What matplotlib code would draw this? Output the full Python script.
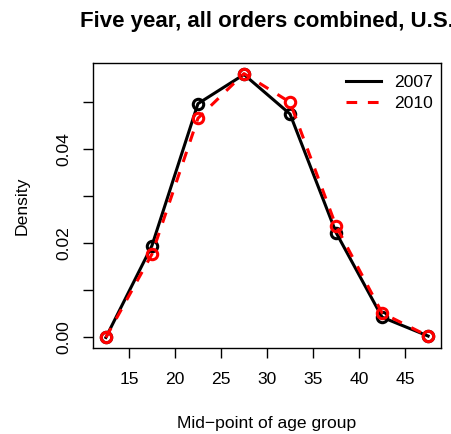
import matplotlib
matplotlib.use("Agg")
import matplotlib.pyplot as plt
import numpy as np

plt.rcParams['font.family'] = ['Liberation Sans', 'DejaVu Sans']

midpoints = [12.5, 17.5, 22.5, 27.5, 32.5, 37.5, 42.5, 47.5]
density_2007 = [0.0, 0.0195, 0.0497, 0.0559, 0.0475, 0.0223, 0.0043, 0.0003]
density_2010 = [0.0, 0.0177, 0.0466, 0.0561, 0.0500, 0.0237, 0.0052, 0.0003]
series_labels = ["2007", "2010"]
xticks = [15, 20, 25, 30, 35, 40, 45]
yticks = [0.00, 0.01, 0.02, 0.03, 0.04, 0.05]
ytick_labels = ["0.00", "", "0.02", "", "0.04", ""]

W, H = 451, 434
fig = plt.figure(figsize=(W / 100, H / 100), dpi=100)
ax = fig.add_axes([93 / W, 1 - 348 / H, (441 - 93) / W, (348 - 63) / H])

lw = 2.2
ax.plot(midpoints, density_2007, color='black', lw=lw, marker='o', ms=7.5,
        mfc='none', mec='black', mew=2.2, label=series_labels[0], zorder=3)
ax.plot(midpoints, density_2010, color='red', lw=lw, ls=(0, (3.5, 3.5)), marker='o', ms=7.5,
        mfc='none', mec='red', mew=2.2, label=series_labels[1], zorder=4)

xr = max(midpoints) - min(midpoints)
ax.set_xlim(min(midpoints) - 0.04 * xr, max(midpoints) + 0.04 * xr)
allv = density_2007 + density_2010
yr = max(allv) - min(allv)
ax.set_ylim(min(allv) - 0.04 * yr, max(allv) + 0.04 * yr)

fs = 12.6
ax.set_xticks(xticks)
ax.set_yticks(yticks)
ax.set_yticklabels(ytick_labels, rotation=90, va='center')
ax.tick_params(axis='both', direction='out', length=7, width=1, labelsize=fs)
ax.tick_params(axis='x', pad=10.5)
ax.tick_params(axis='y', pad=8.5)
for s in ax.spines.values():
    s.set_linewidth(1)

ax.set_xlabel("Mid\u2212point of age group", fontsize=fs, labelpad=20.5)
ax.set_ylabel("Density", fontsize=fs, labelpad=19.5)
fig.text(267 / W, 1 - 27 / H, "Five year, all orders combined, U.S.", fontsize=16,
         fontweight='bold', ha='center', va='baseline')

leg = ax.legend(loc='upper left', bbox_to_anchor=(346 / W, 1 - 75 / H),
                bbox_transform=fig.transFigure, frameon=False, fontsize=fs,
                handlelength=2.0, handletextpad=0.74, borderpad=0, borderaxespad=0,
                labelspacing=0.33)
for h in leg.get_lines():
    h.set_marker('')

fig.savefig("out.png", dpi=100)
